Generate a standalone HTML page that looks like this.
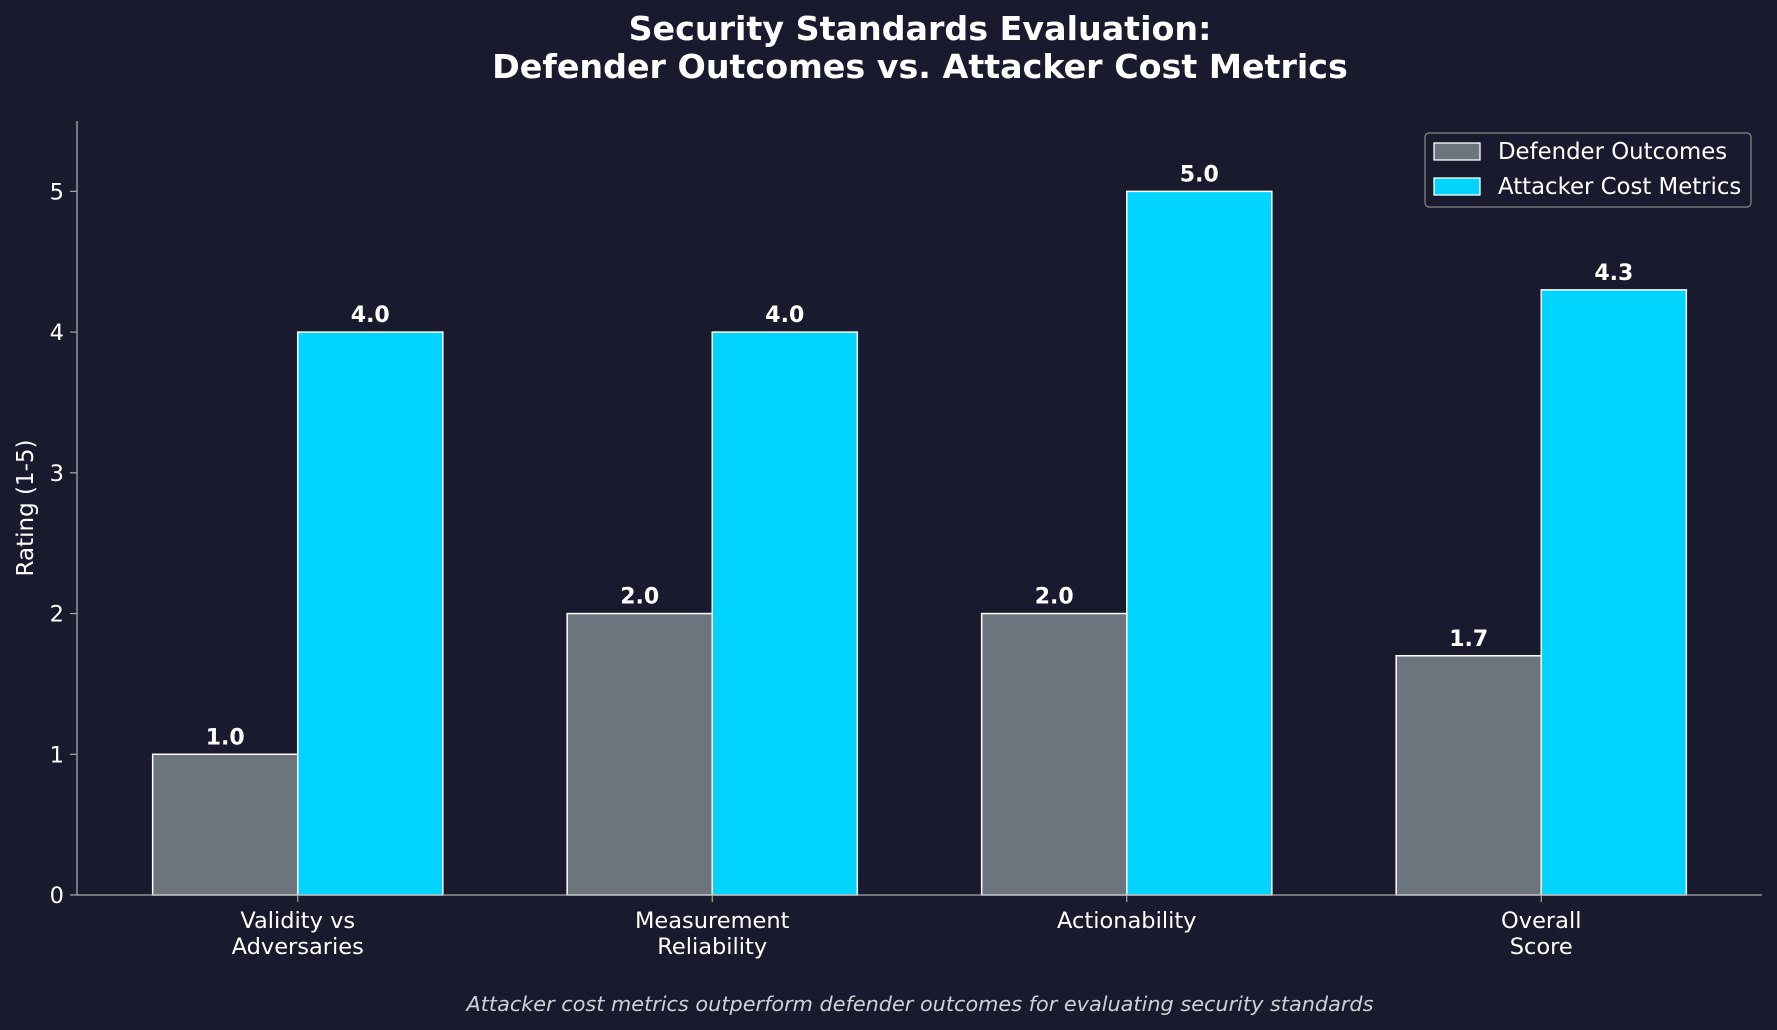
<!DOCTYPE html>
<html><head><meta charset="utf-8"><style>
html,body{margin:0;padding:0;background:#1a1a2e;}
svg{display:block;font-family:"DejaVu Sans","Liberation Sans",sans-serif;}
</style></head><body>
<svg id="chart" width="1777" height="1030" viewBox="0 0 1777 1030">
<rect width="1777" height="1030" fill="#1a1a2e"/>
<text x="920" y="40" text-anchor="middle" font-size="33.3" font-weight="bold" fill="#fff">Security Standards Evaluation:</text>
<text x="920" y="78" text-anchor="middle" font-size="33.3" font-weight="bold" fill="#fff">Defender Outcomes vs. Attacker Cost Metrics</text>
<g id="plot"></g>
<text transform="translate(33,508) rotate(-90)" text-anchor="middle" font-size="23" fill="#fff">Rating (1-5)</text>
<text x="920" y="1011" text-anchor="middle" font-size="20.8" font-style="italic" fill="#d0d0d8">Attacker cost metrics outperform defender outcomes for evaluating security standards</text>
<g>
<rect x="1425" y="133" width="326" height="74" rx="4" fill="#1a1a2e" stroke="#888" stroke-width="1.2"/>
<rect x="1434" y="143" width="46" height="17" fill="#6c757d" stroke="#fff" stroke-width="1.3"/>
<text x="1498" y="159" font-size="22.8" fill="#fff">Defender Outcomes</text>
<rect x="1434" y="178" width="46" height="17" fill="#00d4ff" stroke="#fff" stroke-width="1.3"/>
<text x="1498" y="194" font-size="22.8" fill="#fff">Attacker Cost Metrics</text>
</g>
</svg>
<script>
const categories = [["Validity vs","Adversaries"],["Measurement","Reliability"],["Actionability"],["Overall","Score"]];
const defenderValues = [1.0, 2.0, 2.0, 1.7];
const attackerValues = [4.0, 4.0, 5.0, 4.3];
const yTicks = [0, 1, 2, 3, 4, 5];
const NS = "http://www.w3.org/2000/svg";
const L = 77, R = 1762, T = 121, B = 895;
const xMin = -0.5325, xMax = 3.5325, yMax = 5.5;
const xs = v => L + (v - xMin) / (xMax - xMin) * (R - L);
const ys = v => B - v / yMax * (B - T);
const bw = 0.35;
const g = document.getElementById('plot');
function mk(tag, attrs, text) {
  const e = document.createElementNS(NS, tag);
  for (const k in attrs) e.setAttribute(k, attrs[k]);
  if (text !== undefined) e.textContent = text;
  g.appendChild(e);
  return e;
}
yTicks.forEach(t => {
  const tk = mk('line', {x1: L - 7, x2: L, y1: ys(t), y2: ys(t), stroke: '#aaa', 'stroke-width': 1.2});
  
  
  const lb = mk('text', {x: L - 13, y: ys(t) + 8, 'text-anchor': 'end', 'font-size': 22.5, fill: '#fff'}, String(t));
  
  
});
function drawBars(vals, off, color, name) {
  vals.forEach((v, i) => {
    const x0 = xs(i + off - bw / 2), x1 = xs(i + off + bw / 2);
    const r = mk('rect', {x: x0, y: ys(v), width: x1 - x0, height: ys(0) - ys(v), fill: color, stroke: '#fff', 'stroke-width': 1.5});
    
    
    const t = mk('text', {x: (x0 + x1) / 2, y: ys(v) - 10, 'text-anchor': 'middle', 'font-size': 22, 'font-weight': 'bold', fill: '#fff'}, v.toFixed(1));
    
    
  });
}
drawBars(defenderValues, -bw / 2, '#6c757d', 'defender');
drawBars(attackerValues, bw / 2, '#00d4ff', 'attacker');
categories.forEach((c, i) => {
  const tk = mk('line', {x1: xs(i), x2: xs(i), y1: B, y2: B + 7, stroke: '#aaa', 'stroke-width': 1.2});
  
  
  c.forEach((line, j) => {
    const t = mk('text', {x: xs(i), y: B + 33 + j * 26, 'text-anchor': 'middle', 'font-size': 22.5, fill: '#fff'}, line);
    
    
  });
});
const ya = mk('line', {x1: L, x2: L, y1: T, y2: B, stroke: '#aaa', 'stroke-width': 1.3});


const xa = mk('line', {x1: L, x2: R, y1: B, y2: B, stroke: '#aaa', 'stroke-width': 1.3});


</script>
</body></html>
